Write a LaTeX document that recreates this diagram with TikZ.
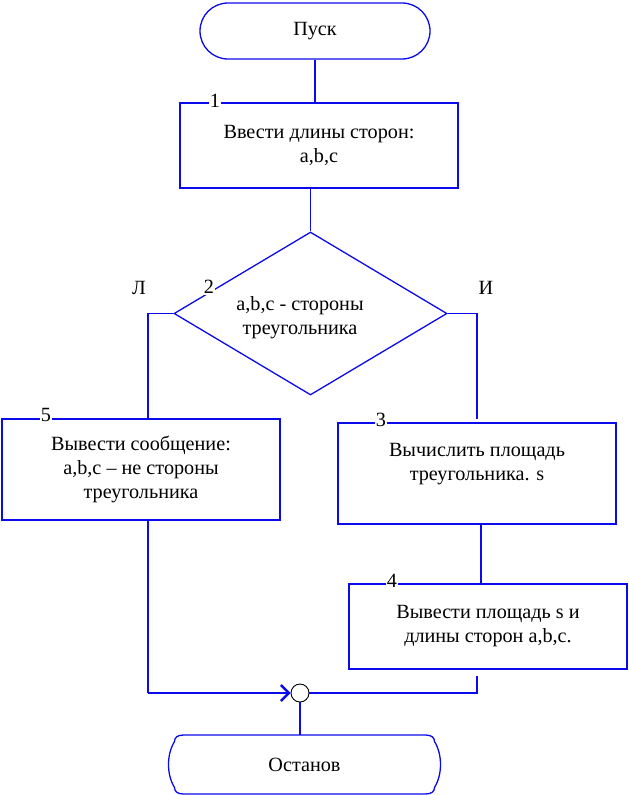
\documentclass[tikz,border=0pt]{standalone}
\usepackage{fontspec}
\setmainfont{Liberation Serif}
\usetikzlibrary{shapes.geometric,arrows.meta}
\definecolor{flowblue}{RGB}{10,10,235}

\begin{document}
\begin{tikzpicture}[x=1pt,y=-1pt,
	every node/.style={font=\fontsize{20.2}{24}\selectfont},
	wire/.style={draw=flowblue,line width=1.3pt},
	block/.style={wire,rectangle,inner sep=0pt,align=center,minimum width=278pt},
	term/.style={wire,rectangle,inner sep=0pt,rounded corners=28pt,minimum width=230pt,minimum height=56pt},
	stopbox/.style={rectangle,inner sep=0pt,minimum width=273pt,minimum height=59pt},
	decide/.style={wire,diamond,inner sep=0pt,minimum width=273pt,minimum height=163pt},
	num/.style={fill=white,inner sep=1pt},
	joint/.style={circle,draw=black,line width=0.9pt,fill=white,minimum size=18pt,inner sep=0pt}]
	\useasboundingbox (0,0) rectangle (629,795);
	% blocks
	\node[term] (start) at (315,31) {Пуск};
	\node[block,minimum height=85pt] (b1) at (319,145.5) {Ввести длины сторон:\\a,b,c};
	\node[decide] (d2) at (310.5,313.5) {};
	\node[align=center] (d2txt) at (300,318) {a,b,c - стороны\\треугольника};
	\node[block,minimum height=101pt] (b5) at (141,469.5) {Вывести сообщение:\\a,b,c -- не стороны\\треугольника};
	\node[block,minimum height=101pt] (b3) at (477,473.5) {Вычислить площадь\\треугольника. s\\\mbox{}};
	\node[block,minimum height=85pt] (b4) at (488,626.5) {Вывести площадь s и\\длины сторон a,b,c.};
	\node[joint] (j) at (300,693) {};
	\node[stopbox] (stop) at (304.5,764.5) {Останов};
	% terminal outline
	\begin{scope}[shift={(stop.center)}]
		\draw[wire] (-121,-29.5) -- (121,-29.5) .. controls (127,-29.5) and (130,-27) .. (130,-23)
			.. controls (138,-10) and (138,10) .. (130,23) .. controls (130,27) and (127,29.5) .. (121,29.5)
			-- (-121,29.5) .. controls (-127,29.5) and (-130,27) .. (-130,23)
			.. controls (-138,10) and (-138,-10) .. (-130,-23) .. controls (-130,-27) and (-127,-29.5) .. cycle;
	\end{scope}
	% numbers
	\node[num] (n1) at (215,101) {1};
	\node[num] (n2) at (209,287) {2};
	\node[num] (n3) at (381,420) {3};
	\node[num] (n4) at (392,581) {4};
	\node[num] (n5) at (46,415) {5};
	\node (no) at (139,288) {Л};
	\node (yes) at (486,288) {И};
	% connectors
	\draw[wire] (start) -- (start |- b1.north);
	\draw[wire] (d2.north |- b1.south) -- (d2.north);
	\draw[wire] (d2.west) -| ([xshift=7pt]b5.north);
	\draw[wire] (d2.east) -| ([yshift=3pt]b3.north);
	\draw[wire] ([xshift=4pt]b3.south) -- ([xshift=4pt]b3.south |- b4.north);
	\draw[wire] ([xshift=-11pt,yshift=-6pt]b4.south) |- (j.east);
	\draw[wire] ([xshift=7pt]b5.south) -- ([xshift=7pt]b5.south |- j.west);
	\draw[wire,line width=2.4pt,-{Straight Barb[length=8pt,width=16pt]}] ([xshift=7pt]b5.south |- j.west) -- (j.west);
	\draw[wire] (j) -- (j |- stop.north);
\end{tikzpicture}
\end{document}
